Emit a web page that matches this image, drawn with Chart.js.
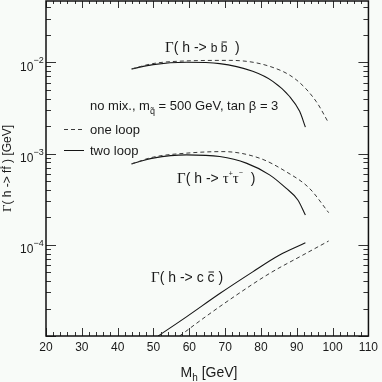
<!DOCTYPE html>
<html>
<head>
<meta charset="utf-8">
<script src="https://cdn.jsdelivr.net/npm/chart.js@4.4.1/dist/chart.umd.min.js"></script>
<style>
  html, body { margin: 0; padding: 0; background: #f8fbf8; }
  #wrap { width: 382px; height: 382px; }
</style>
</head>
<body>
<div id="wrap"><canvas id="widthChart" width="382" height="382"></canvas></div>
<script>
// h -> b bbar
const massBbOne = [43.9, 49.8, 59.2, 71.3, 82.4, 89.8, 95.4, 98.9];
const widthBbOne = [8.46e-3, 9.68e-3, 1.036e-2, 1.05e-2, 9.04e-3, 6.46e-3, 3.73e-3, 2.16e-3];
const massBbTwo = [43.9, 49.9, 59.2, 68.5, 77.7, 83.3, 88.0, 90.8, 92.4];
const widthBbTwo = [8.46e-3, 9.43e-3, 1.00e-2, 9.68e-3, 7.96e-3, 6.18e-3, 4.22e-3, 2.90e-3, 1.95e-3];

// h -> tau tau
const massTauOne = [43.9, 49.9, 59.2, 69.4, 79.6, 87.0, 93.5, 98.9];
const widthTauOne = [7.71e-4, 9.13e-4, 1.01e-3, 1.05e-3, 8.90e-4, 6.33e-4, 4.17e-4, 2.25e-4];
const massTauTwo = [43.9, 49.9, 59.2, 68.5, 75.9, 82.4, 87.0, 90.3, 92.4];
const widthTauTwo = [7.71e-4, 8.90e-4, 9.67e-4, 9.27e-4, 7.85e-4, 5.84e-4, 4.17e-4, 3.10e-4, 2.12e-4];

// h -> c cbar
const massCcOne = [57.3, 63.8, 73.1, 82.4, 91.7, 98.9];
const widthCcOne = [1.0e-5, 1.55e-5, 2.80e-5, 4.85e-5, 7.71e-5, 1.10e-4];
const massCcTwo = [51.3, 59.2, 68.5, 77.7, 85.2, 92.4];
const widthCcTwo = [1.0e-5, 1.62e-5, 2.92e-5, 5.05e-5, 7.71e-5, 1.05e-4];

// axes
const xTicks = [20, 30, 40, 50, 60, 70, 80, 90, 100, 110];
const yDecades = [1e-4, 1e-3, 1e-2];
const yDecadeExp = ['\u22124', '\u22123', '\u22122'];

const SANS = '"Liberation Sans", Arial, sans-serif';
const SERIF = '"Liberation Serif", "Times New Roman", serif';
const INK = '#1a1a1a';

function pts(xs, ys) {
    return xs.map((x, i) => ({ x: x, y: ys[i] }));
}

function oneLoop(xs, ys) {
    return { data: pts(xs, ys), borderColor: '#3a3a3a', borderWidth: 1, borderDash: [4, 3] };
}
function twoLoop(xs, ys) {
    return { data: pts(xs, ys), borderColor: '#151515', borderWidth: 1.1 };
}

// draws pieces of text one after another, with sub/superscripts and overbars
function rich(ctx, x, y, parts, align) {
    let total = 0;
    parts.forEach(p => { ctx.font = p.f; total += ctx.measureText(p.t).width; });
    let cx = align === 'center' ? x - total / 2 : x;
    parts.forEach(p => {
        ctx.font = p.f;
        const w = ctx.measureText(p.t).width;
        ctx.fillText(p.t, cx, y + (p.dy || 0));
        if (p.bar) {
            ctx.beginPath();
            ctx.lineWidth = 1;
            ctx.moveTo(cx + 1, y + (p.dy || 0) - p.bar);
            ctx.lineTo(cx + w - 0.5, y + (p.dy || 0) - p.bar);
            ctx.stroke();
        }
        cx += w;
    });
}

const decorations = {
    id: 'decorations',
    beforeDraw(chart) {
        const ctx = chart.ctx;
        ctx.save();
        ctx.fillStyle = '#f8fbf8';
        ctx.fillRect(0, 0, chart.width, chart.height);
        ctx.restore();
    },
    afterDraw(chart) {
        const ctx = chart.ctx;
        const a = chart.chartArea;
        const xs = chart.scales.x;
        const ys = chart.scales.y;
        ctx.save();
        ctx.strokeStyle = '#333';
        ctx.lineWidth = 1;

        // x ticks, bottom and top
        ctx.beginPath();
        for (let m = 20; m <= 110; m += 2) {
            const px = Math.round(xs.getPixelForValue(m)) + 0.5;
            const len = m % 10 === 0 ? 8 : 4;
            ctx.moveTo(px, a.bottom); ctx.lineTo(px, a.bottom - len);
            ctx.moveTo(px, a.top); ctx.lineTo(px, a.top + len - 1);
        }
        // y ticks, left and right
        for (let e = -5; e <= -2; e++) {
            for (let k = 1; k <= 9; k++) {
                const v = k * Math.pow(10, e);
                if (v < ys.min || v > ys.max) continue;
                const py = Math.round(ys.getPixelForValue(v)) + 0.5;
                const len = k === 1 ? 10 : 5;
                ctx.moveTo(a.left, py); ctx.lineTo(a.left + len, py);
                ctx.moveTo(a.right, py); ctx.lineTo(a.right - len, py);
            }
        }
        ctx.stroke();

        // frame
        ctx.strokeStyle = '#111';
        ctx.lineWidth = 1.5;
        ctx.strokeRect(a.left, a.top, a.right - a.left, a.bottom - a.top);

        ctx.fillStyle = INK;
        ctx.strokeStyle = INK;
        ctx.textBaseline = 'alphabetic';
        ctx.textAlign = 'left';

        // y tick labels 10^-n
        yDecades.forEach((v, i) => {
            const py = ys.getPixelForValue(v);
            ctx.font = '12px ' + SANS;
            ctx.fillText('10', 20, py + 8.5);
            ctx.font = '9px ' + SANS;
            ctx.fillText(yDecadeExp[i], 33.5, py + 1);
        });

        // axis titles
        rich(ctx, 209, 377, [
            { t: 'M', f: '14px ' + SANS },
            { t: 'h', f: '10px ' + SANS, dy: 4 },
            { t: ' [GeV]', f: '14px ' + SANS }
        ], 'center');

        ctx.save();
        ctx.translate(11, (a.top + a.bottom) / 2);
        ctx.rotate(-Math.PI / 2);
        rich(ctx, 0, 0, [
            { t: '\u0393', f: '13px ' + SERIF },
            { t: '( h -> ', f: '12px ' + SANS },
            { t: 'f', f: '12px ' + SANS },
            { t: 'f', f: '12px ' + SANS, bar: 10 },
            { t: ' ) [GeV]', f: '12px ' + SANS }
        ], 'center');
        ctx.restore();

        // curve labels
        rich(ctx, 165, 52, [
            { t: '\u0393', f: '15px ' + SERIF },
            { t: '( h -> ', f: '14px ' + SANS },
            { t: 'b ', f: '12px ' + SANS },
            { t: 'b', f: '12px ' + SANS, bar: 10 },
            { t: '  )', f: '14px ' + SANS }
        ]);
        rich(ctx, 177, 183, [
            { t: '\u0393', f: '15px ' + SERIF },
            { t: '( h -> ', f: '14px ' + SANS },
            { t: '\u03c4', f: '15px ' + SERIF },
            { t: '+', f: '7px ' + SANS, dy: -7 },
            { t: '\u03c4', f: '15px ' + SERIF },
            { t: '\u2212', f: '7px ' + SANS, dy: -8 },
            { t: '  )', f: '14px ' + SANS }
        ]);
        rich(ctx, 151, 282, [
            { t: '\u0393', f: '15px ' + SERIF },
            { t: '( h -> ', f: '14px ' + SANS },
            { t: 'c ', f: '14px ' + SANS },
            { t: 'c', f: '14px ' + SANS, bar: 10 },
            { t: ' )', f: '14px ' + SANS }
        ]);

        // parameters
        rich(ctx, 90, 110, [
            { t: 'no mix., m', f: '13px ' + SANS },
            { t: 'q\u0303', f: '9px ' + SANS, dy: 4 },
            { t: ' = 500 GeV, tan \u03b2 = 3', f: '13px ' + SANS }
        ]);

        // legend
        ctx.lineWidth = 1;
        ctx.strokeStyle = '#3a3a3a';
        ctx.setLineDash([4, 3]);
        ctx.beginPath(); ctx.moveTo(64, 129.5); ctx.lineTo(84, 129.5); ctx.stroke();
        ctx.setLineDash([]);
        ctx.strokeStyle = '#151515';
        ctx.beginPath(); ctx.moveTo(64, 150.5); ctx.lineTo(84, 150.5); ctx.stroke();
        ctx.font = '13px ' + SANS;
        ctx.fillText('one loop', 90, 134);
        ctx.fillText('two loop', 90, 155);

        ctx.restore();
    }
};

new Chart(document.getElementById('widthChart').getContext('2d'), {
    type: 'line',
    data: {
        datasets: [
            oneLoop(massBbOne, widthBbOne),
            twoLoop(massBbTwo, widthBbTwo),
            oneLoop(massTauOne, widthTauOne),
            twoLoop(massTauTwo, widthTauTwo),
            oneLoop(massCcOne, widthCcOne),
            twoLoop(massCcTwo, widthCcTwo)
        ]
    },
    options: {
        responsive: false,
        animation: false,
        events: [],
        layout: { padding: { top: 1, right: 13, left: 0, bottom: 0 } },
        elements: {
            point: { radius: 0 },
            line: { cubicInterpolationMode: 'monotone', fill: false }
        },
        plugins: { legend: { display: false }, tooltip: { enabled: false } },
        scales: {
            x: {
                type: 'linear',
                min: 20,
                max: 110,
                afterFit: s => { s.height = 46; },
                afterBuildTicks: s => { s.ticks = xTicks.map(v => ({ value: v })); },
                grid: { display: false, drawTicks: false },
                border: { display: false },
                ticks: { padding: 4, color: INK, font: { family: SANS, size: 12 } }
            },
            y: {
                type: 'logarithmic',
                min: 1e-5,
                max: 0.047,
                afterFit: s => { s.width = 46; },
                grid: { display: false, drawTicks: false },
                border: { display: false },
                ticks: { display: false }
            }
        }
    },
    plugins: [decorations]
});
</script>
</body>
</html>
